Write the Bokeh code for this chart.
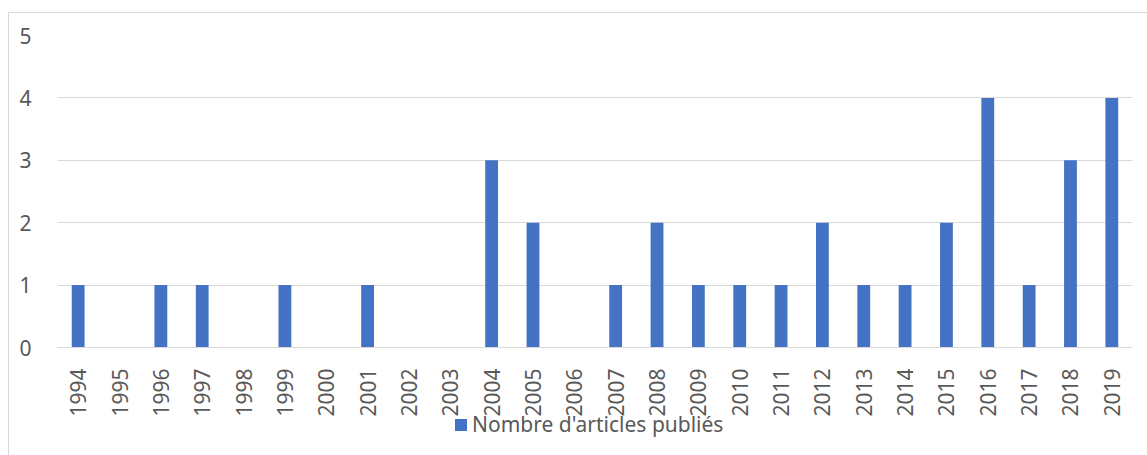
from bokeh.plotting import figure
from bokeh.models import FactorRange, SingleIntervalTicker, Div
from bokeh.layouts import column
from bokeh.embed import file_html
from bokeh.resources import INLINE
import math

years = [str(y) for y in range(1994, 2020)]
counts = [1, 0, 1, 1, 0, 1, 0, 1, 0, 0, 3, 2, 0, 1, 2, 1, 1, 1, 2, 1, 1, 2, 4, 1, 3, 4]
series_name = "Nombre d'articles publiés"

FONT = "Noto Sans"
TXT = "#595959"
GRID = "#d9d9d9"
BAR = "#4472C4"

p = figure(width=1138, height=406,
           x_range=FactorRange(*years, range_padding=0), y_range=(0, 5),
           output_backend="svg", toolbar_location=None,
           min_border_left=48, min_border_right=15, min_border_top=22, min_border_bottom=63)
p.outline_line_color = None
p.background_fill_color = "white"

r = p.vbar(x=years, top=counts, width=0.31, color=BAR, line_color=None)

p.yaxis.ticker = SingleIntervalTicker(interval=1)
p.yaxis.axis_line_color = None
p.yaxis.major_tick_line_color = None
p.yaxis.minor_tick_line_color = None
p.yaxis.major_label_standoff = 20
p.yaxis.major_label_text_font = FONT
p.yaxis.major_label_text_font_size = "21px"
p.yaxis.major_label_text_color = TXT

p.xaxis.axis_line_color = GRID
p.xaxis.axis_line_width = 1
p.xaxis.major_tick_line_color = None
p.xaxis.minor_tick_line_color = None
p.xaxis.major_label_orientation = math.pi / 2
p.xaxis.major_label_standoff = 15
p.xaxis.major_label_text_font = FONT
p.xaxis.major_label_text_font_size = "21px"
p.xaxis.major_label_text_color = TXT

p.xgrid.grid_line_color = None
p.ygrid.grid_line_color = GRID
p.ygrid.grid_line_width = 1

legend_html = (
    f'<div style="font-family:\'{FONT}\';font-size:21px;color:{TXT};line-height:24px;'
    f'margin-top:-7px;padding-left:446px;white-space:nowrap;">'
    f'<span style="display:inline-block;width:12px;height:12px;background:{BAR};'
    f'margin-right:5px;vertical-align:middle;position:relative;top:-1px;"></span>'
    f'{series_name}</div>'
)
legend_div = Div(text=legend_html, width=1138, height=37, margin=0)

layout = column(p, legend_div, margin=(12, 0, 0, 8), spacing=0)
layout.styles = {"border-left": "1px solid #d9d9d9", "border-top": "1px solid #d9d9d9"}

open("out.html", "w").write(file_html(layout, INLINE))
